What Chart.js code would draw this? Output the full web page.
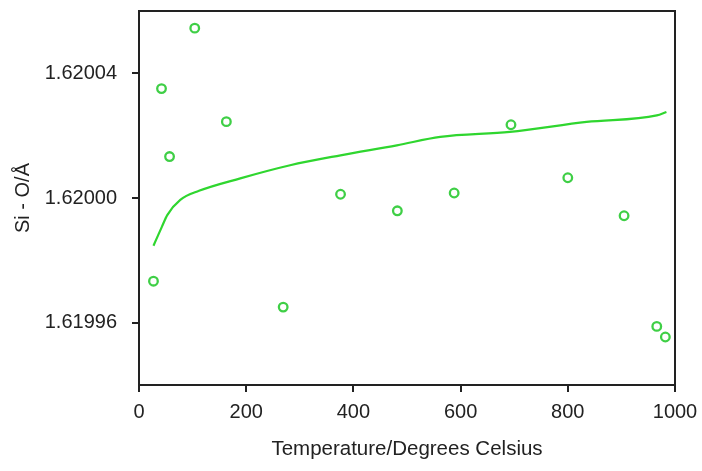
<!DOCTYPE html>
<html>
<head>
<meta charset="utf-8">
<script src="https://cdn.jsdelivr.net/npm/chart.js@4.4.0/dist/chart.umd.min.js"></script>
<style>
  html, body { margin: 0; padding: 0; background: #fff; }
  #wrap { width: 702px; height: 471px; }
</style>
</head>
<body>
<div id="wrap"><canvas id="myChart" width="702" height="471"></canvas></div>
<script>
// measured points (temperature in C, Si-O in angstrom)
var tempPts = [27, 42, 57, 104, 163, 269, 376, 482, 588, 694, 800, 905, 966, 982];
var bondPts = [1.6199733, 1.6200351, 1.6200133, 1.6200545, 1.6200245, 1.619965, 1.6200012,
               1.6199959, 1.6200016, 1.6200235, 1.6200065, 1.6199943, 1.6199588, 1.6199554];

// fitted curve
var tempFit = [27, 42, 53, 77, 112, 189, 282, 376, 481, 562, 692, 835, 966, 984];
var bondFit = [1.6199847, 1.6199905, 1.6199946, 1.6199994, 1.6200023, 1.6200063, 1.6200105,
               1.6200137, 1.6200169, 1.6200196, 1.6200212, 1.6200244, 1.6200265, 1.6200276];

var xTicks = [0, 200, 400, 600, 800, 1000];
var yTicks = [1.61996, 1.62000, 1.62004];

function toXY(xs, ys) {
    var out = [];
    for (var i = 0; i < xs.length; i++) {
        out.push({ x: xs[i], y: ys[i] });
    }
    return out;
}

var frame = {
    id: 'frame',
    afterDatasetsDraw: function (chart) {
        var a = chart.chartArea;
        var ctx = chart.ctx;
        ctx.save();
        ctx.strokeStyle = '#222';
        ctx.lineWidth = 2;
        ctx.strokeRect(a.left, a.top, a.right - a.left, a.bottom - a.top);
        ctx.restore();
    }
};

var tickFont = { family: 'Liberation Sans, Arial, sans-serif', size: 20 };
var titleFont = { family: 'Liberation Sans, Arial, sans-serif', size: 20 };

var ctx = document.getElementById('myChart').getContext('2d');
var myChart = new Chart(ctx, {
    type: 'scatter',
    data: {
        datasets: [
            {
                label: 'fit',
                data: toXY(tempFit, bondFit),
                showLine: true,
                borderColor: '#2fd62f',
                borderWidth: 2.2,
                pointRadius: 0,
                tension: 0.4,
                cubicInterpolationMode: 'monotone'
            },
            {
                label: 'points',
                data: toXY(tempPts, bondPts),
                showLine: false,
                pointRadius: 4.3,
                pointBorderWidth: 2.3,
                pointBorderColor: '#3fcf46',
                pointBackgroundColor: '#ffffff'
            }
        ]
    },
    options: {
        responsive: false,
        animation: false,
        layout: { padding: { left: 0, right: 27, top: 11, bottom: 0 } },
        plugins: {
            legend: { display: false },
            tooltip: { enabled: false }
        },
        scales: {
            x: {
                type: 'linear',
                min: 0,
                max: 1000,
                afterBuildTicks: function (s) {
                    s.ticks = xTicks.map(function (v) { return { value: v }; });
                },
                afterFit: function (s) {
                    s.height = 86;
                    s.paddingLeft = 0;
                    s.paddingRight = 0;
                },
                grid: { drawOnChartArea: false, tickLength: 7, color: '#222', lineWidth: 2 },
                border: { color: '#222', width: 2 },
                ticks: {
                    color: '#222',
                    font: tickFont,
                    padding: 8,
                    maxRotation: 0,
                    callback: function (v) { return String(v); }
                },
                title: {
                    display: true,
                    text: 'Temperature/Degrees Celsius',
                    color: '#222',
                    font: { family: 'Liberation Sans, Arial, sans-serif', size: 20.5 },
                    padding: { top: 0, bottom: 9 }
                }
            },
            y: {
                type: 'linear',
                min: 1.61994,
                max: 1.62006,
                afterBuildTicks: function (s) {
                    s.ticks = yTicks.map(function (v) { return { value: v }; });
                },
                afterFit: function (s) {
                    s.width = 139;
                    s.paddingTop = 0;
                    s.paddingBottom = 0;
                },
                grid: { drawOnChartArea: false, tickLength: 7, color: '#222', lineWidth: 2 },
                border: { color: '#222', width: 2 },
                ticks: {
                    color: '#222',
                    font: tickFont,
                    padding: 15,
                    callback: function (v) { return Number(v).toFixed(5); }
                },
                title: {
                    display: true,
                    text: 'Si - O/Å',
                    color: '#222',
                    font: titleFont,
                    padding: { top: 11, bottom: 0 }
                }
            }
        }
    },
    plugins: [frame]
});
</script>
</body>
</html>
